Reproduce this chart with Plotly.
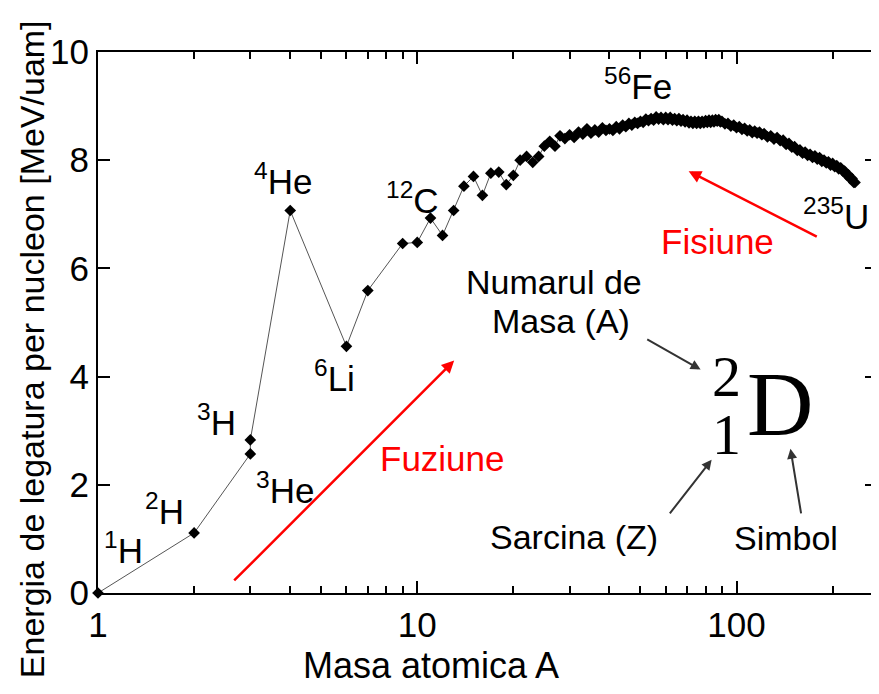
import plotly.graph_objects as go

# ---- data ----
mass_number = [1, 2, 3, 3, 4, 6, 7, 9, 10, 11, 12, 13, 14, 15, 16, 17, 18, 19, 20,
               21, 22, 23, 24, 25, 26, 27, 28, 29, 30, 31, 32, 33, 34, 35, 36, 37, 38,
               39, 40, 41, 42, 43, 44, 45, 46, 47, 48, 49,
               50, 51, 52, 53, 54, 55, 56, 57, 58, 59, 60, 61, 62, 63, 64, 65, 66, 67,
               68, 69, 70, 71, 72, 73, 74, 75, 76, 77, 78, 79, 80, 81, 82, 83, 84, 85,
               86, 87, 88, 89, 90, 92, 94, 96, 98, 100, 102, 104, 106, 108, 110, 112,
               114, 116, 118, 120, 122, 125, 128, 131, 134, 137, 140, 143, 146, 149,
               152, 155, 158, 161, 164, 167, 170, 173, 176, 179, 182, 185, 188, 191,
               194, 197, 200, 203, 206, 209, 212, 215, 218, 221, 224, 227, 230, 233, 235]
binding_energy = [0.0, 1.11, 2.57, 2.83, 7.07, 4.56, 5.59, 6.46, 6.48, 6.93, 6.61, 7.07,
                  7.52, 7.70, 7.35, 7.76, 7.78, 7.55, 7.72,
                  8.00, 8.07, 7.96, 8.07, 8.26, 8.35, 8.26, 8.45, 8.40, 8.47, 8.42, 8.52,
                  8.48, 8.58, 8.50, 8.56, 8.52, 8.60, 8.55, 8.58, 8.55, 8.62, 8.58, 8.65,
                  8.62, 8.68, 8.65, 8.70, 8.68,
                  8.72, 8.70, 8.76, 8.73, 8.77, 8.74, 8.80, 8.76, 8.79, 8.75, 8.79, 8.75,
                  8.79, 8.74, 8.77, 8.73, 8.77, 8.72, 8.75, 8.71, 8.74, 8.69, 8.72, 8.68,
                  8.72, 8.68, 8.72, 8.68, 8.72, 8.69, 8.73, 8.70, 8.74, 8.70, 8.74, 8.71,
                  8.75, 8.72, 8.75, 8.71, 8.72, 8.67, 8.68, 8.63, 8.65, 8.60, 8.62, 8.57,
                  8.59, 8.54, 8.56, 8.51, 8.54, 8.50, 8.52, 8.47, 8.49, 8.43, 8.45, 8.39,
                  8.42, 8.36, 8.37, 8.29, 8.31, 8.24, 8.25, 8.18, 8.19, 8.13, 8.15, 8.09,
                  8.11, 8.05, 8.08, 8.02, 8.05, 7.98, 8.00, 7.95, 7.97, 7.91, 7.94, 7.88,
                  7.90, 7.84, 7.86, 7.80, 7.80, 7.73, 7.73, 7.66, 7.66, 7.59, 7.59]

nuclide_labels = ["<sup>1</sup>H", "<sup>2</sup>H", "<sup>3</sup>H", "<sup>3</sup>He",
                  "<sup>4</sup>He", "<sup>6</sup>Li", "<sup>12</sup>C", "<sup>56</sup>Fe",
                  "<sup>235</sup>U"]
label_x_log = [0.08, 0.2075, 0.37, 0.585, 0.578, 0.74, 0.985, 1.69, 2.31]
label_y = [0.84, 1.55, 3.2, 1.95, 7.65, 4.02, 7.30, 9.40, 7.01]

FONT = "Liberation Sans, Arial, sans-serif"
SERIF = "Liberation Serif, Times New Roman, serif"

fig = go.Figure()
fig.add_trace(go.Scatter(
    x=mass_number, y=binding_energy, mode="lines+markers",
    line=dict(color="#555555", width=1),
    marker=dict(symbol="diamond", size=9, color="black"),
    showlegend=False, cliponaxis=False))

annotations = []
for t, xl, yl in zip(nuclide_labels, label_x_log, label_y):
    annotations.append(dict(x=xl, y=yl, xref="x", yref="y", text=t, showarrow=False,
                            font=dict(size=35, color="black", family=FONT)))

# red process arrows
annotations.append(dict(x=1.1156, y=4.296, ax=0.4219, ay=0.204, xref="x", yref="y",
                        axref="x", ayref="y", text="", showarrow=True, arrowhead=2,
                        arrowsize=1, arrowwidth=2.5, arrowcolor="#ff0000"))
annotations.append(dict(x=1.85, y=7.796, ax=2.256, ay=6.574, xref="x", yref="y",
                        axref="x", ayref="y", text="", showarrow=True, arrowhead=2,
                        arrowsize=1, arrowwidth=2.5, arrowcolor="#ff0000"))
annotations.append(dict(x=1.078, y=2.48, xref="x", yref="y", text="Fuziune", showarrow=False,
                        font=dict(size=35, color="#ff0000", family=FONT)))
annotations.append(dict(x=1.94, y=6.5, xref="x", yref="y", text="Fisiune", showarrow=False,
                        font=dict(size=35, color="#ff0000", family=FONT)))

# notation legend
annotations.append(dict(x=1.428, y=5.74, xref="x", yref="y", text="Numarul de", showarrow=False,
                        font=dict(size=34, color="black", family=FONT)))
annotations.append(dict(x=1.45, y=5.02, xref="x", yref="y", text="Masa (A)", showarrow=False,
                        font=dict(size=34, color="black", family=FONT)))
annotations.append(dict(x=1.49, y=1.037, xref="x", yref="y", text="Sarcina (Z)", showarrow=False,
                        font=dict(size=34, color="black", family=FONT)))
annotations.append(dict(x=2.156, y=1.02, xref="x", yref="y", text="Simbol", showarrow=False,
                        font=dict(size=34, color="black", family=FONT)))
annotations.append(dict(x=1.97, y=4.0, xref="x", yref="y", text="2", showarrow=False,
                        font=dict(size=58, color="black", family=SERIF)))
annotations.append(dict(x=1.97, y=2.93, xref="x", yref="y", text="1", showarrow=False,
                        font=dict(size=58, color="black", family=SERIF)))
annotations.append(dict(x=2.135, y=3.5, xref="x", yref="y", text="D", showarrow=False,
                        font=dict(size=92, color="black", family=SERIF)))
for hx, hy, tx, ty in [(1.8875, 4.13, 1.7156, 4.704),
                       (1.922, 2.463, 1.7875, 1.444),
                       (2.169, 2.667, 2.203, 1.444)]:
    annotations.append(dict(x=hx, y=hy, ax=tx, ay=ty, xref="x", yref="y",
                            axref="x", ayref="y", text="", showarrow=True, arrowhead=2,
                            arrowsize=1, arrowwidth=2, arrowcolor="#333333"))

# axis titles (given in page pixels, converted to paper units below)
annotations.append(dict(x=432, y=665, xref="paper", yref="paper", text="Masa atomica A",
                        xanchor="center", yanchor="middle",
                        showarrow=False, font=dict(size=36, color="black", family=FONT)))
annotations.append(dict(x=32, y=349, xref="paper", yref="paper",
                        text="Energia de legatura per nucleon [MeV/uam]", textangle=-90,
                        xanchor="center", yanchor="middle",
                        showarrow=False, font=dict(size=34, color="black", family=FONT)))

OFF = 8  # default page body margin
W, H = 879 - OFF, 694 - OFF
L, R, T, B = 98 - OFF, 0, 52 - OFF, 694 - 593
pw, ph = W - L - R, H - T - B
for a in annotations:
    if a.get("xref") == "paper":
        a["x"] = (a["x"] - OFF - L) / pw
        a["y"] = (H - B - (a["y"] - OFF)) / ph

fig.update_layout(
    width=W, height=H, margin=dict(l=L, r=R, t=T, b=B),
    paper_bgcolor="white", plot_bgcolor="white",
    font=dict(family=FONT, color="black", size=34),
    annotations=annotations,
    xaxis=dict(type="log", range=[0, 2.44], dtick=1, tick0=0,
               showgrid=False, zeroline=False, showline=True, linewidth=2,
               linecolor="black", mirror="ticks", ticks="inside", ticklen=12,
               tickwidth=2, tickcolor="black",
               tickfont=dict(size=35, family=FONT, color="black"),
               minor=dict(ticks="inside", ticklen=7, tickwidth=2, tickcolor="black",
                          dtick="D1", showgrid=False)),
    yaxis=dict(range=[0, 10], dtick=2, showgrid=False, zeroline=False, showline=True,
               linewidth=2, linecolor="black", mirror="ticks", ticks="inside",
               ticklen=12, tickwidth=2, tickcolor="black",
               tickfont=dict(size=35, family=FONT, color="black")),
)

fig.write_html("out.html")
